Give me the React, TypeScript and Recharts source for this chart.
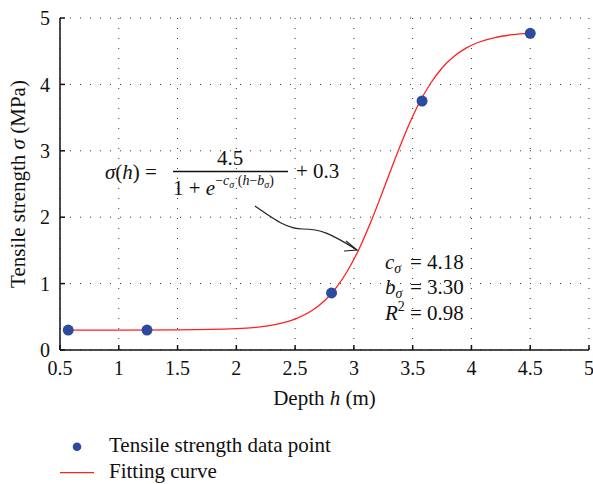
import React from "react";
import {
  ComposedChart,
  Line,
  Scatter,
  XAxis,
  YAxis,
  CartesianGrid,
  Legend,
} from "recharts";

// Measured data points
const depthPoints = [0.57, 1.24, 2.81, 3.58, 4.5];
const strengthPoints = [0.3, 0.3, 0.86, 3.75, 4.77];

// Fitting curve
const curveDepth = [
  0.57, 1.0, 1.5, 2.0, 2.25, 2.5, 2.65, 2.75, 2.85, 2.95, 3.05, 3.15, 3.25,
  3.35, 3.45, 3.55, 3.65, 3.75, 3.85, 3.95, 4.05, 4.2, 4.35, 4.5,
];
const curveStrength = [
  0.3, 0.3, 0.303, 0.321, 0.36, 0.466, 0.602, 0.743, 0.94, 1.205, 1.545, 1.954,
  2.41, 2.877, 3.318, 3.701, 4.01, 4.247, 4.42, 4.543, 4.627, 4.706, 4.749,
  4.773,
];

const xTicks = [0.5, 1, 1.5, 2, 2.5, 3, 3.5, 4, 4.5, 5];
const yTicks = [0, 1, 2, 3, 4, 5];

const seriesNames = ["Tensile strength data point", "Fitting curve"];

const pointData = depthPoints.map((h, i) => ({ h, s: strengthPoints[i] }));
const curveData = curveDepth.map((h, i) => ({ h, s: curveStrength[i] }));

const FONT = "Liberation Serif, DejaVu Serif, serif";
const BLUE = "#2c4a9e";
const RED = "#ff2020";

const XLabel = (props: any) => {
  const vb = props.viewBox || {};
  return (
    <text
      x={vb.x + vb.width / 2}
      y={vb.y + 55}
      textAnchor="middle"
      fontFamily={FONT}
      fontSize={21}
      fill="#111"
    >
      Depth <tspan fontStyle="italic">h</tspan> (m)
    </text>
  );
};

const YLabel = (props: any) => {
  const vb = props.viewBox || {};
  const cx = 25;
  const cy = vb.y + vb.height / 2;
  return (
    <text
      x={cx}
      y={cy}
      textAnchor="middle"
      transform={`rotate(-90 ${cx} ${cy})`}
      fontFamily={FONT}
      fontSize={21}
      fill="#111"
    >
      Tensile strength <tspan fontStyle="italic">σ</tspan> (MPa)
    </text>
  );
};

const LegendContent = () => (
  <svg width={420} height={60} style={{ display: "block" }}>
    <g fontFamily={FONT} fontSize={21} fill="#111">
      <circle cx={77} cy={18.7} r={4.3} fill={BLUE} />
      <text x={109} y={24}>{seriesNames[0]}</text>
      <line x1={60} x2={94} y1={44.7} y2={44.7} stroke={RED} strokeWidth={1.2} />
      <text x={109} y={50}>{seriesNames[1]}</text>
    </g>
  </svg>
);

const Annotations = () => (
  <svg
    width={593}
    height={484}
    style={{ position: "absolute", left: 0, top: 0, pointerEvents: "none" }}
  >
    <g fontFamily={FONT} fill="#111">
      <text x={105} y={179} fontSize={21}>
        <tspan fontStyle="italic">σ</tspan>(<tspan fontStyle="italic">h</tspan>) =
      </text>
      <text x={230} y={165} fontSize={21} textAnchor="middle">
        4.5
      </text>
      <line x1={173} x2={288} y1={171.5} y2={171.5} stroke="#111" strokeWidth={1.4} />
      <text x={173} y={195} fontSize={21}>
        1 + <tspan fontStyle="italic">e</tspan>
        <tspan fontSize={14} dy={-10}>−</tspan>
        <tspan fontSize={14} fontStyle="italic">c</tspan>
        <tspan fontStyle="italic" fontSize={10} dy={3}>σ</tspan>
        <tspan fontSize={14} dy={-3}> (</tspan>
        <tspan fontSize={14} fontStyle="italic">h</tspan>
        <tspan fontSize={14}>−</tspan>
        <tspan fontSize={14} fontStyle="italic">b</tspan>
        <tspan fontStyle="italic" fontSize={10} dy={3}>σ</tspan>
        <tspan fontSize={14} dy={-3}>)</tspan>
      </text>
      <text x={296} y={178} fontSize={21}>
        + 0.3
      </text>

      <text x={385} y={269} fontSize={21}>
        <tspan fontStyle="italic">c</tspan>
        <tspan fontStyle="italic" fontSize={14} dy={4}>σ</tspan>
      </text>
      <text x={410} y={269} fontSize={21}>= 4.18</text>
      <text x={385} y={294} fontSize={21}>
        <tspan fontStyle="italic">b</tspan>
        <tspan fontStyle="italic" fontSize={14} dy={4}>σ</tspan>
      </text>
      <text x={410} y={294} fontSize={21}>= 3.30</text>
      <text x={385} y={320} fontSize={21}>
        <tspan fontStyle="italic">R</tspan>
        <tspan fontSize={14} dy={-9}>2</tspan>
      </text>
      <text x={410} y={320} fontSize={21}>= 0.98</text>
    </g>
    <path
      d="M255,206 C278,222 288,229 303,229 C320,229 330,233 357,250"
      fill="none"
      stroke="#222"
      strokeWidth={1.2}
    />
    <path d="M346,241 L357,250 L344,251" fill="none" stroke="#222" strokeWidth={1.2} />
  </svg>
);

const tickStyle = { fontFamily: FONT, fontSize: 20, fill: "#111" };

export default function App() {
  return (
    <div style={{ position: "absolute", left: 0, top: 0, width: 593, height: 484 }}>
      <ComposedChart
        width={593}
        height={484}
        margin={{ top: 18, right: 4, left: 0, bottom: 0 }}
      >
        <CartesianGrid stroke="#333" strokeDasharray="1 9" strokeWidth={1} />
        <XAxis
          dataKey="h"
          type="number"
          domain={[0.5, 5]}
          ticks={xTicks}
          height={134}
          tick={tickStyle}
          tickSize={-5}
          tickMargin={16}
          stroke="#111"
          strokeWidth={1.5}
          interval={0}
          label={<XLabel />}
        />
        <XAxis
          xAxisId="top"
          orientation="top"
          type="number"
          domain={[0.5, 5]}
          ticks={xTicks}
          height={0}
          tick={false}
          tickSize={-5}
          stroke="#111"
          strokeWidth={1.5}
        />
        <YAxis
          dataKey="s"
          type="number"
          domain={[0, 5]}
          ticks={yTicks}
          width={60}
          tick={tickStyle}
          tickSize={-5}
          tickMargin={15}
          stroke="#111"
          strokeWidth={1.5}
          interval={0}
          label={<YLabel />}
        />
        <YAxis
          yAxisId="right"
          orientation="right"
          type="number"
          domain={[0, 5]}
          ticks={yTicks}
          width={0}
          tick={false}
          tickSize={-5}
          stroke="#111"
          strokeWidth={1.5}
        />
        <Line
          data={curveData}
          dataKey="s"
          name={seriesNames[1]}
          type="monotone"
          stroke={RED}
          strokeWidth={1.3}
          dot={false}
          activeDot={false}
          isAnimationActive={false}
        />
        <Scatter
          data={pointData}
          dataKey="s"
          name={seriesNames[0]}
          fill={BLUE}
          shape={(p: any) => <circle cx={p.cx} cy={p.cy} r={5.5} fill={BLUE} />}
          isAnimationActive={false}
        />
        <Legend
          layout="vertical"
          verticalAlign="middle"
          align="center"
          wrapperStyle={{ left: 0, top: 428, width: 420, height: 60 }}
          content={<LegendContent />}
        />
      </ComposedChart>
      <Annotations />
    </div>
  );
}
